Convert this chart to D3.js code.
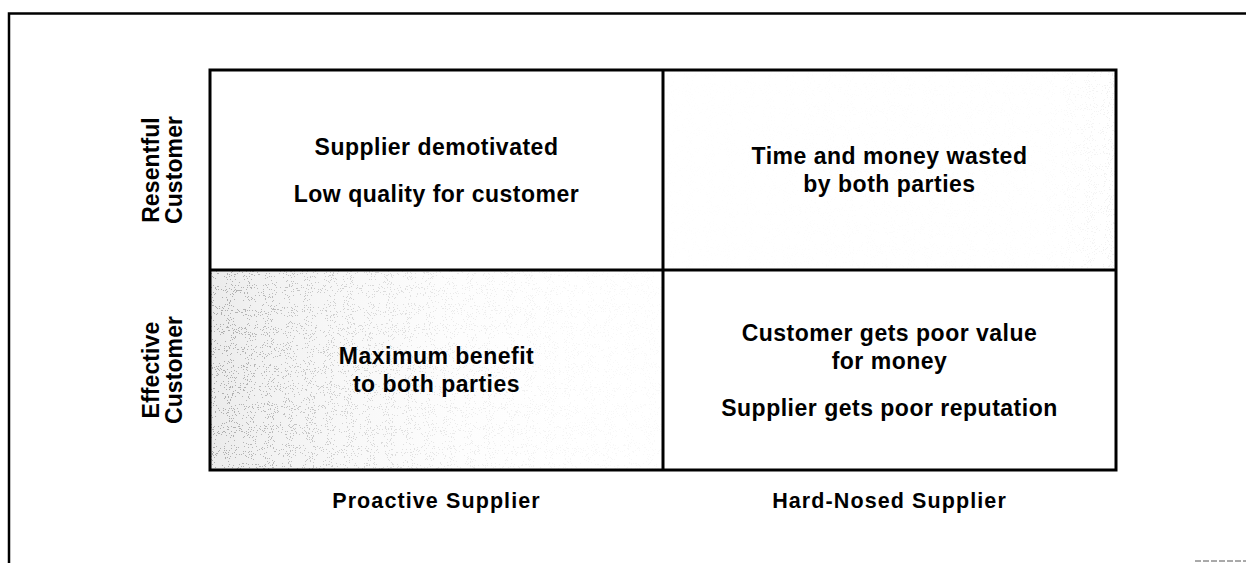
<!DOCTYPE html>
<html>
<head>
<meta charset="utf-8">
<script src="https://cdn.jsdelivr.net/npm/d3@7"></script>
<style>
  html, body { margin: 0; padding: 0; background: #fff; }
  svg { display: block; }
  text { font-family: "Liberation Sans", Arial, Helvetica, sans-serif; font-weight: bold; fill: #000; }
</style>
</head>
<body>
<svg id="chart" width="1246" height="563"></svg>
<script>
// ---- data ----
const supplierTypes = ["Proactive Supplier", "Hard-Nosed Supplier"];
const customerTypes = ["Resentful", "Effective"];
const customerLabels = [["Resentful", "Customer"], ["Effective", "Customer"]];
// each cell: list of paragraphs, each paragraph a list of lines
const outcomes = [
  { supplier: "Proactive Supplier",  customer: "Resentful", text: [["Supplier demotivated"], ["Low quality for customer"]] },
  { supplier: "Hard-Nosed Supplier", customer: "Resentful", text: [["Time and money wasted", "by both parties"]] },
  { supplier: "Proactive Supplier",  customer: "Effective", text: [["Maximum benefit", "to both parties"]] },
  { supplier: "Hard-Nosed Supplier", customer: "Effective", text: [["Customer gets poor value", "for money"], ["Supplier gets poor reputation"]] }
];
const shadedCell = { supplier: "Proactive Supplier", customer: "Effective" };
const faintCell = { supplier: "Hard-Nosed Supplier", customer: "Resentful" };

// ---- layout ----
const W = 1246, H = 563;
const grid = { left: 210, top: 70, right: 1116, bottom: 470 };
const svg = d3.select("#chart");

const x = d3.scaleBand().domain(supplierTypes).range([grid.left, grid.right]).padding(0);
const y = d3.scaleBand().domain(customerTypes).range([grid.top, grid.bottom]).padding(0);

const defs = svg.append("defs");
// soft tone gradient
const grad = defs.append("linearGradient").attr("id", "tone").attr("x1", "0%").attr("x2", "100%").attr("y1", "0%").attr("y2", "0%");
[[0, "#ebebeb"], [0.1, "#f1f1f1"], [0.3, "#f8f8f8"], [0.55, "#fdfdfd"], [0.8, "#ffffff"]]
  .forEach(([o, c]) => grad.append("stop").attr("offset", o).attr("stop-color", c));
// stipple texture (procedural noise, thresholded into dots)
const filt = defs.append("filter").attr("id", "stippleF").attr("x", 0).attr("y", 0).attr("width", "100%").attr("height", "100%");
filt.append("feTurbulence").attr("type", "fractalNoise").attr("baseFrequency", 0.95).attr("numOctaves", 2).attr("seed", 7).attr("result", "n");
filt.append("feColorMatrix").attr("in", "n").attr("type", "matrix")
  .attr("values", "0 0 0 0 0.4  0 0 0 0 0.4  0 0 0 0 0.4  1.6 0 0 0 -0.3");
filt.append("feComponentTransfer").append("feFuncA").attr("type", "discrete").attr("tableValues", "0 0 0 0 0 0 1 1");
// density mask
const mg = defs.append("linearGradient").attr("id", "maskGrad").attr("x1", "0%").attr("x2", "100%");
[[0, "#fff"], [0.1, "#d0d0d0"], [0.3, "#777"], [0.55, "#333"], [0.8, "#1a1a1a"], [1, "#111"]]
  .forEach(([o, c]) => mg.append("stop").attr("offset", o).attr("stop-color", c));
const cellRect = c => ({ x: x(c.supplier), y: y(c.customer), w: x.bandwidth(), h: y.bandwidth() });
const sc = cellRect(shadedCell);
defs.append("mask").attr("id", "dens")
  .append("rect").attr("x", sc.x).attr("y", sc.y).attr("width", sc.w).attr("height", sc.h).attr("fill", "url(#maskGrad)");
const mg2 = defs.append("linearGradient").attr("id", "maskGrad2").attr("x1", "0%").attr("x2", "100%");
[[0, "#060606"], [0.85, "#0a0a0a"], [1, "#2a2a2a"]]
  .forEach(([o, c]) => mg2.append("stop").attr("offset", o).attr("stop-color", c));
const fc = cellRect(faintCell);
defs.append("mask").attr("id", "dens2")
  .append("rect").attr("x", fc.x).attr("y", fc.y).attr("width", fc.w).attr("height", fc.h).attr("fill", "url(#maskGrad2)");

// outer frame
svg.append("path")
  .attr("d", `M9,${H} L9,13.5 L${W},13.5`)
  .attr("fill", "none").attr("stroke", "#000").attr("stroke-width", 2.5);
svg.append("line")
  .attr("x1", 1195).attr("x2", W).attr("y1", 561).attr("y2", 561)
  .attr("stroke", "#555").attr("stroke-width", 1).attr("stroke-dasharray", "6,2");

// shaded cell
svg.append("rect")
  .attr("x", sc.x).attr("y", sc.y).attr("width", sc.w).attr("height", sc.h)
  .attr("fill", "url(#tone)");
svg.append("g").attr("mask", "url(#dens)")
  .append("rect").attr("x", sc.x).attr("y", sc.y).attr("width", sc.w).attr("height", sc.h)
  .attr("fill", "#000").attr("filter", "url(#stippleF)");
svg.append("g").attr("mask", "url(#dens2)")
  .append("rect").attr("x", fc.x).attr("y", fc.y).attr("width", fc.w).attr("height", fc.h)
  .attr("fill", "#000").attr("filter", "url(#stippleF)");

// grid lines
const g = svg.append("g").attr("stroke", "#000").attr("stroke-width", 3).attr("fill", "none");
g.append("rect")
  .attr("x", grid.left).attr("y", grid.top)
  .attr("width", grid.right - grid.left).attr("height", grid.bottom - grid.top);
g.append("line")
  .attr("x1", x(supplierTypes[1])).attr("x2", x(supplierTypes[1]))
  .attr("y1", grid.top).attr("y2", grid.bottom);
g.append("line")
  .attr("x1", grid.left).attr("x2", grid.right)
  .attr("y1", y(customerTypes[1])).attr("y2", y(customerTypes[1]));

// cell texts
const lineH = 28, paraGap = 19, fs = 23, capH = fs * 0.72;
outcomes.forEach(d => {
  const cx = x(d.supplier) + x.bandwidth() / 2;
  const cy = y(d.customer) + y.bandwidth() / 2;
  const baselines = [];
  let b = 0;
  d.text.forEach(para => {
    para.forEach((line, li) => {
      if (baselines.length > 0) b += (li === 0 ? lineH + paraGap : lineH);
      baselines.push({ line, b });
    });
  });
  const off = cy - (-capH + b) / 2;
  svg.append("g").selectAll("text").data(baselines).join("text")
    .attr("x", cx).attr("y", t => t.b + off)
    .attr("text-anchor", "middle")
    .attr("font-size", fs)
    .attr("letter-spacing", 0.5)
    .text(t => t.line);
});

// x axis labels
const xAxis = d3.axisBottom(x).tickSize(0).tickPadding(0);
const xg = svg.append("g").attr("transform", `translate(0,${grid.bottom})`).call(xAxis);
xg.select(".domain").remove();
xg.selectAll("text")
  .attr("dy", null).attr("y", 38)
  .attr("font-size", 21.5).attr("letter-spacing", 1.1)
  .attr("fill", "#000")
  .style("font-family", "'Liberation Sans', Arial, sans-serif").style("font-weight", "bold");

// y labels (rotated, two lines)
customerTypes.forEach((c, i) => {
  const cy = y(c) + y.bandwidth() / 2;
  const t = svg.append("text")
    .attr("transform", `translate(159,${cy}) rotate(-90)`)
    .attr("text-anchor", "middle")
    .attr("font-size", 23)
    .attr("letter-spacing", 0.1);
  customerLabels[i].forEach((ln, j) => {
    t.append("tspan").attr("x", 0).attr("y", j * 23).text(ln);
  });
});
</script>
</body>
</html>
